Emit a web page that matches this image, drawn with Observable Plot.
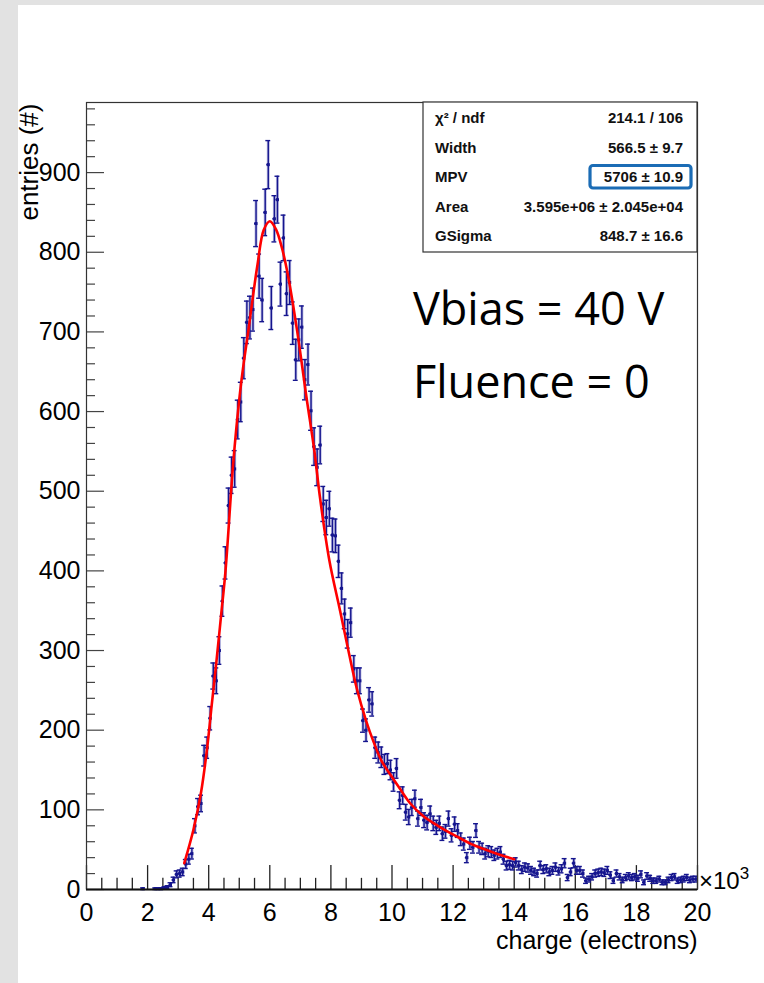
<!DOCTYPE html>
<html>
<head>
<meta charset="utf-8">
<script src="https://cdn.jsdelivr.net/npm/d3@7"></script>
<script src="https://cdn.jsdelivr.net/npm/@observablehq/plot@0.6"></script>
<style>
  body { margin: 0; background: #e2e2e2; }
  #wrap { position: relative; width: 764px; height: 983px; overflow: hidden; background: #e2e2e2; }
  #chart { position: absolute; left: 18px; top: 5px; width: 746px; height: 978px; background: #fff; }
  #overlay { position: absolute; left: 0; top: 0; pointer-events: none; }
</style>
</head>
<body>
<div id="wrap"><div id="chart"></div></div>
<script>
// ---------- data ----------
const binWidth = 100;          // electrons per bin
const firstBinCenter = 1850;   // first listed bin centre (electrons)
// entries per bin, from 1850 to 19950 electrons
const counts = [
  1, 0, 0, 0, 1, 1, 1, 2, 3, 6,
  12, 19, 20, 22, 32, 38, 45, 80, 104, 108,
  168, 178, 215, 268, 262, 300, 362, 410, 482, 520,
  528, 590, 612, 667, 712, 718, 728, 836, 770, 740,
  850, 910, 730, 842, 866, 760, 818, 748, 762, 711,
  665, 690, 706, 640, 659, 601, 556, 530, 558, 484,
  467, 478, 445, 444, 412, 378, 346, 321, 335, 277,
  262, 262, 212, 200, 238, 233, 178, 172, 166, 157,
  158, 150, 135, 152, 112, 118, 97, 91, 103, 114,
  89, 103, 87, 84, 95, 83, 78, 83, 70, 73,
  89, 68, 82, 74, 63, 57, 40, 58, 53, 74,
  53, 51, 45, 48, 47, 43, 45, 47, 38, 30,
  31, 30, 34, 30, 25, 28, 27, 24, 22, 20,
  30, 25, 26, 22, 24, 28, 23, 26, 33, 15,
  22, 33, 24, 24, 20, 11, 13, 16, 20, 21,
  22, 21, 24, 18, 11, 20, 16, 12, 15, 17,
  15, 16, 14, 19, 9, 17, 14, 11, 11, 13,
  9, 9, 12, 15, 16, 11, 12, 13, 15, 12,
  13, 13
];
// fit curve
const fitCharge = [3200, 3500, 3750, 3950, 4100, 4250, 4400, 4550, 4800, 5000, 5150, 5300, 5450, 5600, 5800, 6000, 6200, 6400, 6600, 6900, 7200, 7450, 7650, 7950, 8300, 8600, 8850, 9150, 9400, 9650, 9950, 10250, 10600, 11000, 11500, 12100, 12600, 13000, 13500, 14000];
const fitEntries = [33, 75, 122, 178, 232, 285, 342, 400, 534, 615, 662, 702, 745, 785, 828, 839, 829, 805, 770, 700, 618, 553, 490, 413, 350, 295, 252, 212, 185, 162, 144, 127, 108, 93, 80, 67, 57, 51, 44, 38];

const xMajorTicks = [0, 2000, 4000, 6000, 8000, 10000, 12000, 14000, 16000, 18000, 20000];
const yMajorTicks = [0, 100, 200, 300, 400, 500, 600, 700, 800, 900];

const statLabels = ["χ² / ndf", "Width", "MPV", "Area", "GSigma"];
const statValues = ["214.1 / 106", "566.5 ± 9.7", "5706 ± 10.9", "3.595e+06 ± 2.045e+04", "848.7 ± 16.6"];
const annotations = ["Vbias = 40 V", "Fluence = 0"];
const xExponent = ["×10", "3"];

// ---------- build ----------
const bins = counts
  .map((n, i) => ({x: firstBinCenter + i * binWidth, n, err: Math.sqrt(n)}))
  .filter(d => d.n > 0);
const fit = fitCharge.map((x, i) => ({x, y: fitEntries[i]}));
const xMinor = d3.range(0, 20001, 500).filter(v => v % 2000 !== 0);
const yMinor = d3.range(0, 988, 20).filter(v => v % 100 !== 0);

const navy = "#15158e";
const halo = "#7b7bc8";
const font = "'Liberation Sans', Arial, sans-serif";

const chart = Plot.plot({
  width: 746, height: 978,
  marginLeft: 68, marginRight: 67, marginTop: 97, marginBottom: 94,
  style: {background: "white", fontFamily: font, overflow: "visible"},
  x: {domain: [0, 20000]},
  y: {domain: [0, 988]},
  marks: [
    // ticks (inside the frame, ROOT style)
    Plot.ruleX(xMajorTicks, {x: d => d, y1: 0, y2: 30, stroke: "#222", strokeWidth: 1.3}),
    Plot.ruleX(xMinor, {x: d => d, y1: 0, y2: 14, stroke: "#222", strokeWidth: 1.3}),
    Plot.ruleY(yMajorTicks, {y: d => d, x1: 0, x2: 590, stroke: "#444", strokeWidth: 1.2}),
    Plot.ruleY(yMinor, {y: d => d, x1: 0, x2: 295, stroke: "#444", strokeWidth: 1.2}),
    Plot.axisX({ticks: xMajorTicks, tickFormat: d => d / 1000, tickSize: 0, tickPadding: 14, fontSize: 25, label: null}),
    Plot.axisY({ticks: yMajorTicks, tickSize: 0, tickPadding: 6, fontSize: 25, label: null}),
    // error bars: halo then dark
    Plot.ruleX(bins, {x: "x", y1: d => d.n - d.err, y2: d => d.n + d.err, stroke: halo, strokeWidth: 3, strokeOpacity: 0.5}),
    Plot.ruleX(bins, {x: "x", y1: d => d.n - d.err, y2: d => d.n + d.err, stroke: navy, strokeWidth: 1.4}),
    Plot.ruleY(bins, {y: d => d.n - d.err, x1: d => d.x - 80, x2: d => d.x + 80, stroke: navy, strokeWidth: 1.4}),
    Plot.ruleY(bins, {y: d => d.n + d.err, x1: d => d.x - 80, x2: d => d.x + 80, stroke: navy, strokeWidth: 1.4}),
    Plot.ruleY(bins, {y: "n", x1: d => d.x - 50, x2: d => d.x + 50, stroke: navy, strokeWidth: 1.6}),
    Plot.dot(bins, {x: "x", y: "n", symbol: "square", r: 1.7, fill: navy}),
    // fit
    Plot.line(fit, {x: "x", y: "y", stroke: "#ff0000", strokeWidth: 2.6, curve: "catmull-rom"}),
    // frame & axis line
    Plot.frame({stroke: "#333", strokeWidth: 1.2}),
    Plot.ruleY([0], {stroke: "#111", strokeWidth: 2}),
    // axis titles
    Plot.text(["entries (#)"], {frameAnchor: "top-left", rotate: -90, textAnchor: "end", lineAnchor: "middle", dx: -57, dy: 1, fontSize: 26}),
    Plot.text(["charge (electrons)"], {frameAnchor: "bottom-right", textAnchor: "end", lineAnchor: "top", dy: 42, fontSize: 25})
  ]
});
document.getElementById("chart").appendChild(chart);

// ---------- overlay: stats box, exponent and annotations ----------
const ov = d3.select("#wrap").append("svg").attr("id", "overlay")
  .attr("width", 764).attr("height", 983);
ov.append("rect").attr("x", 423).attr("y", 102).attr("width", 274).attr("height", 150)
  .attr("fill", "white").attr("stroke", "#333").attr("stroke-width", 1.2);
statLabels.forEach((lab, i) => {
  const y = 118 + i * 29.5;
  ov.append("text").attr("x", 435).attr("y", y).attr("dy", "0.35em")
    .attr("font-family", font).attr("font-weight", "bold").attr("font-size", 15).attr("fill", "#111").text(lab);
  ov.append("text").attr("x", 683).attr("y", y).attr("dy", "0.35em").attr("text-anchor", "end")
    .attr("font-family", font).attr("font-weight", "bold").attr("font-size", 15).attr("fill", "#111").text(statValues[i]);
});
ov.append("rect").attr("x", 590).attr("y", 165.5).attr("width", 101).attr("height", 22.5).attr("rx", 3)
  .attr("fill", "none").attr("stroke", "#1b6cb5").attr("stroke-width", 3.2);
const ex = ov.append("text").attr("x", 699).attr("y", 889).attr("font-family", font).attr("font-size", 24).attr("fill", "#000");
ex.append("tspan").text(xExponent[0]);
ex.append("tspan").attr("font-size", 17).attr("dy", -10).text(xExponent[1]);
annotations.forEach((t, i) => {
  ov.append("text").attr("x", 413).attr("y", 325 + i * 73)
    .attr("font-family", "'Open Sans', 'Noto Sans', sans-serif").attr("font-size", 45).attr("fill", "#000").text(t);
});
</script>
</body>
</html>
